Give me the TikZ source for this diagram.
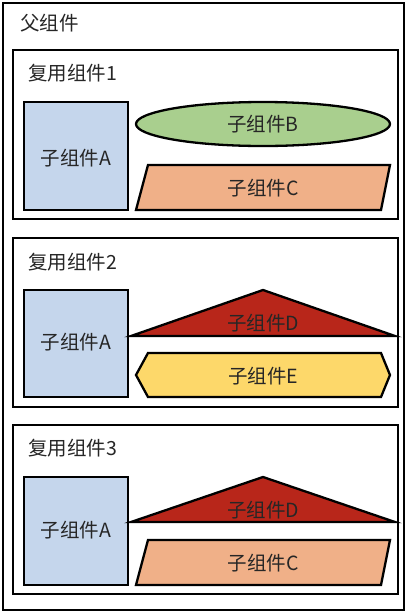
\documentclass[tikz,border=0pt]{standalone}
\usepackage{fontspec}
\setmainfont{Noto Sans CJK SC}
\usetikzlibrary{shapes.geometric}
\definecolor{cblue}{HTML}{C5D6EC}
\definecolor{cgreen}{HTML}{A9CF8E}
\definecolor{corange}{HTML}{F0B088}
\definecolor{cred}{HTML}{B8261A}
\definecolor{cyellow}{HTML}{FDD86A}
\definecolor{ctext}{HTML}{262626}
\tikzset{
  frame/.style={draw=black, line width=2.3pt},
  shp/.style={draw=black, line width=2.3pt, line join=miter},
  lbl/.style={font=\fontsize{19.5}{22}\selectfont, text=ctext, inner sep=0pt},
  ttl/.style={lbl, anchor=west},
}
\begin{document}
\begin{tikzpicture}[x=1pt,y=-1pt]
\useasboundingbox[fill=white] (0,0) rectangle (408,614);
% outer
\draw[frame] (3,3) rectangle (404,610);
\node[ttl] (parent) at (20,23) {父组件};
% ---------- block 1 ----------
\draw[frame] (13,50) rectangle (398,219);
\node[ttl] (t1) at (28,73) {复用组件1};
\draw[shp, fill=cblue] (24,102) rectangle (128,210);
\node[lbl] (a1) at (76,158) {子组件A};
\draw[shp, fill=cgreen] (263,124) ellipse [x radius=127, y radius=22];
\node[lbl] (b1) at (263,124) {子组件B};
\draw[shp, fill=corange] (136,210) -- (148,165) -- (390,165) -- (381,210) -- cycle;
\node[lbl] (c1) at (263,188) {子组件C};
% ---------- block 2 ----------
\draw[frame] (13,238) rectangle (398,407);
\node[ttl] (t2) at (28,262) {复用组件2};
\draw[shp, fill=cblue] (24,290) rectangle (128,397);
\node[lbl] (a2) at (76,342) {子组件A};
\draw[shp, fill=cred] (131,336) -- (263,290) -- (395,336) -- cycle;
\node[lbl] (d2) at (263,323) {子组件D};
\draw[shp, fill=cyellow] (136,375) -- (148,353) -- (381,353) -- (390,375) -- (381,397) -- (148,397) -- cycle;
\node[lbl] (e2) at (263,376) {子组件E};
% ---------- block 3 ----------
\draw[frame] (13,425) rectangle (398,594);
\node[ttl] (t3) at (28,448) {复用组件3};
\draw[shp, fill=cblue] (24,477) rectangle (128,585);
\node[lbl] (a3) at (76,530) {子组件A};
\draw[shp, fill=cred] (131,522) -- (263,477) -- (395,522) -- cycle;
\node[lbl] (d3) at (263,510) {子组件D};
\draw[shp, fill=corange] (136,585) -- (148,540) -- (390,540) -- (381,585) -- cycle;
\node[lbl] (c3) at (263,563) {子组件C};
\end{tikzpicture}
\end{document}
